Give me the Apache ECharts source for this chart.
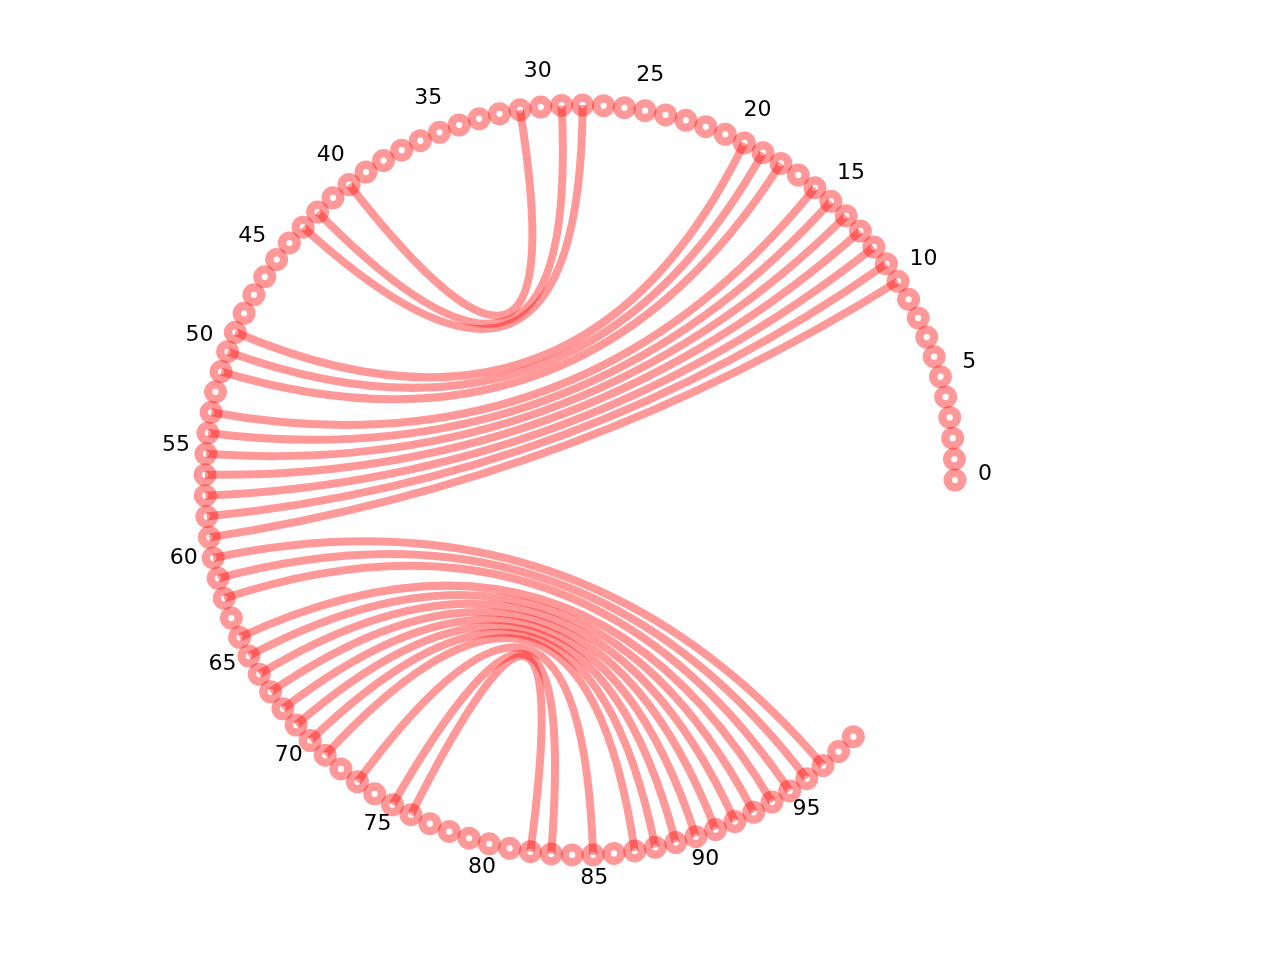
<!DOCTYPE html>
<html>
<head>
<meta charset="utf-8">
<title>arc chords</title>
<script src="https://cdn.jsdelivr.net/npm/echarts@6/dist/echarts.min.js"></script>
<style>
    html, body { margin: 0; padding: 0; background: #fff; }
    #main { width: 1280px; height: 960px; }
</style>
</head>
<body>
<div id="main"></div>
<script>
// nodes 0..99 sit on one circle, leaving a gap after the last one
var nodeCount = 100;
var circleSlots = 112.5;

var tickNodes = [0, 5, 10, 15, 20, 25, 30, 35, 40, 45, 50, 55, 60, 65, 70, 75, 80, 85, 90, 95];
var tickLabels = ['0', '5', '10', '15', '20', '25', '30', '35', '40', '45', '50', '55', '60', '65', '70', '75', '80', '85', '90', '95'];

// links
var edgeSource = [31, 29, 28,
    20, 19, 18, 16, 15, 14, 13, 12, 11, 10,
    60, 61, 62, 64, 65, 66, 67, 68, 69, 70, 71,
    73, 75, 76];
var edgeTarget = [40, 42, 43,
    49, 50, 51, 53, 54, 55, 56, 57, 58, 59,
    97, 96, 95, 94, 93, 92, 91, 90, 89, 88, 87,
    85, 83, 82];

var red = 'rgba(255,0,0,0.4)';

var nodeData = [];
for (var i = 0; i < nodeCount; i++) {
    nodeData.push([1, i]);
}
var edgeData = [];
for (var e = 0; e < edgeSource.length; e++) {
    edgeData.push([edgeSource[e], edgeTarget[e]]);
}
var labelData = [];
for (var t = 0; t < tickNodes.length; t++) {
    labelData.push([1.08, tickNodes[t], tickLabels[t]]);
}

var myChart = echarts.init(document.getElementById('main'), null, {renderer: 'canvas'});
var option = {
    animation: false,
    backgroundColor: '#fff',
    polar: {
        center: [580, 480],
        radius: 375
    },
    radiusAxis: {
        type: 'value', min: 0, max: 1, show: false
    },
    angleAxis: {
        type: 'value', min: 0, max: circleSlots, startAngle: 0, clockwise: false, show: false
    },
    series: [
        {
            type: 'custom',
            coordinateSystem: 'polar',
            silent: true,
            data: edgeData,
            renderItem: function (params, api) {
                var p1 = api.coord([1, api.value(0)]);
                var p2 = api.coord([1, api.value(1)]);
                var c = api.coord([0, 0]);
                return {
                    type: 'bezierCurve',
                    shape: {x1: p1[0], y1: p1[1], x2: p2[0], y2: p2[1], cpx1: c[0], cpy1: c[1]},
                    style: {stroke: red, lineWidth: 8, fill: null, lineCap: 'butt'}
                };
            }
        },
        {
            type: 'custom',
            coordinateSystem: 'polar',
            silent: true,
            data: nodeData,
            renderItem: function (params, api) {
                var p = api.coord([api.value(0), api.value(1)]);
                return {
                    type: 'circle',
                    shape: {cx: p[0], cy: p[1], r: 7.3},
                    style: {stroke: red, lineWidth: 8.4, fill: null}
                };
            }
        },
        {
            type: 'custom',
            coordinateSystem: 'polar',
            silent: true,
            data: labelData,
            renderItem: function (params, api) {
                var p = api.coord([api.value(0), api.value(1)]);
                return {
                    type: 'text',
                    x: p[0],
                    y: p[1] - 6,
                    style: {
                        text: tickLabels[params.dataIndex],
                        fill: '#000',
                        font: '22px "DejaVu Sans"',
                        align: 'center',
                        verticalAlign: 'middle'
                    }
                };
            }
        }
    ]
};
myChart.setOption(option);
</script>
</body>
</html>
